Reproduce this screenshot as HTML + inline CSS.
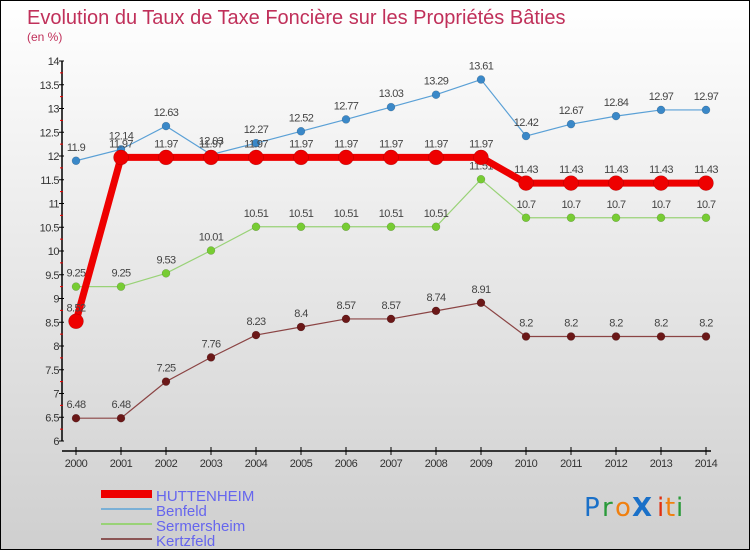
<!DOCTYPE html>
<html><head><meta charset="utf-8"><style>
body{margin:0;}
#c{width:748px;height:548px;border:1px solid #000;background:linear-gradient(#ffffff,#cfcfcf);position:relative;overflow:hidden;font-family:"Liberation Sans",sans-serif;}
</style></head><body>
<div id="c">
<svg id="s" width="748" height="548" xmlns="http://www.w3.org/2000/svg">
<text x="26" y="23" font-size="20" fill="#c0305a">Evolution du Taux de Taxe Foncière sur les Propriétés Bâties</text>
<text x="26" y="40" font-size="12" fill="#c0305a">(en %)</text>
<g id="axes"></g><g id="series"></g>
<g>
<rect x="100" y="489" width="51" height="8" fill="#e00"/>
<text x="155" y="500" font-size="15" fill="#6666ee">HUTTENHEIM</text>
<line x1="100" y1="508" x2="151" y2="508" stroke="#7ab0d6" stroke-width="2"/>
<text x="155" y="515" font-size="15" fill="#6666ee">Benfeld</text>
<line x1="100" y1="523" x2="151" y2="523" stroke="#99d277" stroke-width="2"/>
<text x="155" y="530" font-size="15" fill="#6666ee">Sermersheim</text>
<line x1="100" y1="538" x2="151" y2="538" stroke="#8b5555" stroke-width="2"/>
<text x="155" y="545" font-size="15" fill="#6666ee">Kertzfeld</text>
</g>
<g font-size="26" font-family="'DejaVu Sans',sans-serif">
<text x="583" y="515" fill="#1a70c8">P</text><text x="601" y="515" fill="#2a9a3a">r</text><text x="614" y="515" fill="#f08010">o</text><text x="631" y="515" fill="#1a70c8" font-weight="bold">X</text><text x="656" y="515" fill="#e03010">i</text><text x="664" y="515" fill="#f08010">t</text><text x="675" y="515" fill="#2a9a3a">i</text>
</g>
</svg></div>
<script>
const years=[2000,2001,2002,2003,2004,2005,2006,2007,2008,2009,2010,2011,2012,2013,2014];
const yTicks=[6,6.5,7,7.5,8,8.5,9,9.5,10,10.5,11,11.5,12,12.5,13,13.5,14];
const huttenheim=[8.52,11.97,11.97,11.97,11.97,11.97,11.97,11.97,11.97,11.97,11.43,11.43,11.43,11.43,11.43];
const benfeld=[11.9,12.14,12.63,12.03,12.27,12.52,12.77,13.03,13.29,13.61,12.42,12.67,12.84,12.97,12.97];
const sermersheim=[9.25,9.25,9.53,10.01,10.51,10.51,10.51,10.51,10.51,11.51,10.7,10.7,10.7,10.7,10.7];
const kertzfeld=[6.48,6.48,7.25,7.76,8.23,8.4,8.57,8.57,8.74,8.91,8.2,8.2,8.2,8.2,8.2];
const NS="http://www.w3.org/2000/svg";
function xS(i){return 75+i*45;}
function yS(v){return 440-(v-6)*47.5;}
function mk(tag,attrs,parent){const e=document.createElementNS(NS,tag);for(const k in attrs)e.setAttribute(k,attrs[k]);parent.appendChild(e);return e;}
const ax=document.getElementById('axes');
let l=mk('line',{x1:61,y1:yS(14),x2:61,y2:yS(6),stroke:'#000','stroke-width':1.5},ax);


l=mk('line',{x1:61,y1:450,x2:710,y2:450,stroke:'#000','stroke-width':1.5},ax);


yTicks.forEach(v=>{
 mk('line',{x1:58,y1:yS(v),x2:63,y2:yS(v),stroke:'#000'},ax);
 if(v<14)mk('line',{x1:59,y1:yS(v+0.25),x2:62,y2:yS(v+0.25),stroke:'#e00'},ax);
 const t=mk('text',{x:58,y:yS(v)+4,'font-size':11,fill:'#333','text-anchor':'end','letter-spacing':'-0.5'},ax);
 t.textContent=String(v);
 
 
});
years.forEach((y,i)=>{
 mk('line',{x1:xS(i),y1:446,x2:xS(i),y2:454,stroke:'#000'},ax);
 const t=mk('text',{x:xS(i),y:466,'font-size':11,fill:'#333','text-anchor':'middle','letter-spacing':'-0.5'},ax);
 t.textContent=String(y);
 
 
});
const sg=document.getElementById('series');
function draw(data,name,color,dot,lw,r){
 const g=mk('g',{},sg);
 
 
 const p=mk('polyline',{points:data.map((v,i)=>xS(i)+','+yS(v)).join(' '),fill:'none',stroke:color,'stroke-width':lw},g);
 
 
 data.forEach((v,i)=>{
  const c=mk('circle',{cx:xS(i),cy:yS(v),r:r,fill:dot,stroke:'rgba(0,0,0,0.25)','stroke-width':0.5},g);
  
  
  const t=mk('text',{x:xS(i),y:yS(v)-10,'font-size':11,fill:'#444','text-anchor':'middle','letter-spacing':'-0.6'},g);
  t.textContent=String(v);
  
  
 });
}
draw(kertzfeld,'kertzfeld','#8b4444','#6b1818',1.2,4);
draw(sermersheim,'sermersheim','#99d277','#77cc33',1.2,4);
draw(benfeld,'benfeld','#5aa0d6','#3a88c8',1.2,4);
draw(huttenheim,'huttenheim','#e00','#e00',7,7.5);
</script>
</body></html>
